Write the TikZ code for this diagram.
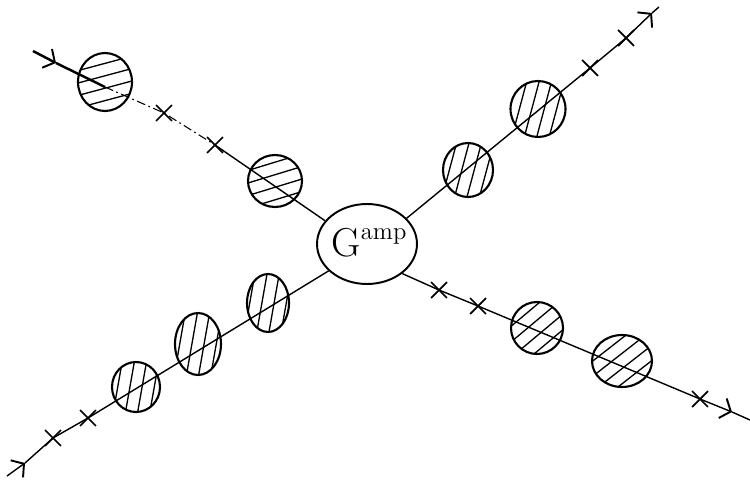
\documentclass[tikz,border=0pt]{standalone}
\usetikzlibrary{shapes.geometric,shapes.misc,arrows.meta,calc}
\begin{document}
\begin{tikzpicture}[x=0.02cm,y=0.02cm,
  line/.style={line width=0.8pt},
  thickline/.style={line width=1.4pt},
  faintline/.style={line width=0.6pt,dash pattern=on 5pt off 2pt on 1pt off 2pt},
  arrowtip/.style={-{Straight Barb[length=5pt,width=12pt,line width=1.1pt]}},
  xmark/.style={cross out,draw,line width=1pt,minimum size=8pt,inner sep=0pt},
  blob/.style={ellipse,draw,line width=1.2pt,inner sep=0pt,
    path picture={\foreach \k in {-3.5,-2.5,...,3.5}{
      \draw[line width=0.75pt]
        ($(path picture bounding box.center)+(#1:2cm)+(#1+90:\k*0.24cm)$) --
        ($(path picture bounding box.center)+(#1+180:2cm)+(#1+90:\k*0.24cm)$);}}},
  centre/.style={ellipse,draw,line width=1.1pt,minimum width=2cm,minimum height=1.6cm,inner sep=0pt}]
\path[use as bounding box] (0,0) rectangle (750,-483);

% central vertex
\node[centre] (G) at (367,-244) {};
\node[inner sep=0pt] (Glabel) at (369,-243) {\fontsize{23}{23}\selectfont G\raisebox{1.0ex}{\fontsize{14}{14}\selectfont amp}};

% ---------- top-left leg ----------
\coordinate (tlend) at (33,-51);
\coordinate (tlarr) at (56,-63);
\coordinate (tlm) at (105,-87);
\node[xmark] (tlx1) at (164,-113) {};
\node[xmark] (tlx2) at (215,-145) {};
\node[blob=15,minimum width=1.08cm,minimum height=1.16cm] (tlb1) at (105,-82) {};
\node[blob=17,minimum width=1.08cm,minimum height=1.04cm] (tlb2) at (275,-181) {};
\draw[thickline,arrowtip] (tlend) -- (tlarr);
\draw[thickline] (tlarr) -- (tlm);
\draw[faintline] (tlm) -- (tlx1.center) -- (tlx2.center);
\draw[line] (tlx2.center) -- (G.151);

% ---------- top-right leg ----------
\coordinate (trend) at (659,-7);
\coordinate (trarr) at (652,-13);
\node[xmark] (trx1) at (590,-68) {};
\node[xmark] (trx2) at (626,-38) {};
\node[blob=75,minimum width=1.0cm,minimum height=1.08cm] (trb1) at (468,-170) {};
\node[blob=75,minimum width=1.1cm,minimum height=1.12cm] (trb2) at (538,-109) {};
\draw[line] (G.33) -- (trx1.center) -- (trx2.center);
\draw[line,arrowtip] (trx2.center) -- (trarr);
\draw[line] (trarr) -- (trend);

% ---------- bottom-left leg ----------
\coordinate (blend) at (7,-476);
\coordinate (blarr) at (25,-463);
\node[xmark] (blx1) at (88,-418) {};
\node[xmark] (blx2) at (53,-438) {};
\node[blob=80,minimum width=0.84cm,minimum height=1.16cm] (blb1) at (268,-303) {};
\node[blob=80,minimum width=0.92cm,minimum height=1.24cm] (blb2) at (198,-344) {};
\node[blob=80,minimum width=0.96cm,minimum height=1.0cm] (blb3) at (136,-387) {};
\draw[line] (G.-145) -- (blx1.center) -- (blx2.center) -- (blarr);
\draw[line,arrowtip] (blend) -- (blarr);

% ---------- bottom-right leg ----------
\coordinate (brend) at (750,-420);
\coordinate (brarr) at (732,-412);
\node[xmark] (brx1) at (439,-290) {};
\node[xmark] (brx2) at (478,-306) {};
\node[xmark] (brx3) at (700,-399) {};
\node[blob=40,minimum width=1.04cm,minimum height=1.04cm] (brb1) at (537,-328) {};
\node[blob=38,minimum width=1.2cm,minimum height=1.04cm] (brb2) at (622,-361) {};
\draw[line] (G.-40) -- (brx1.center) -- (brx2.center) -- (brx3.center);
\draw[line,arrowtip] (brx3.center) -- (brarr);
\draw[line] (brarr) -- (brend);
\end{tikzpicture}
\end{document}
